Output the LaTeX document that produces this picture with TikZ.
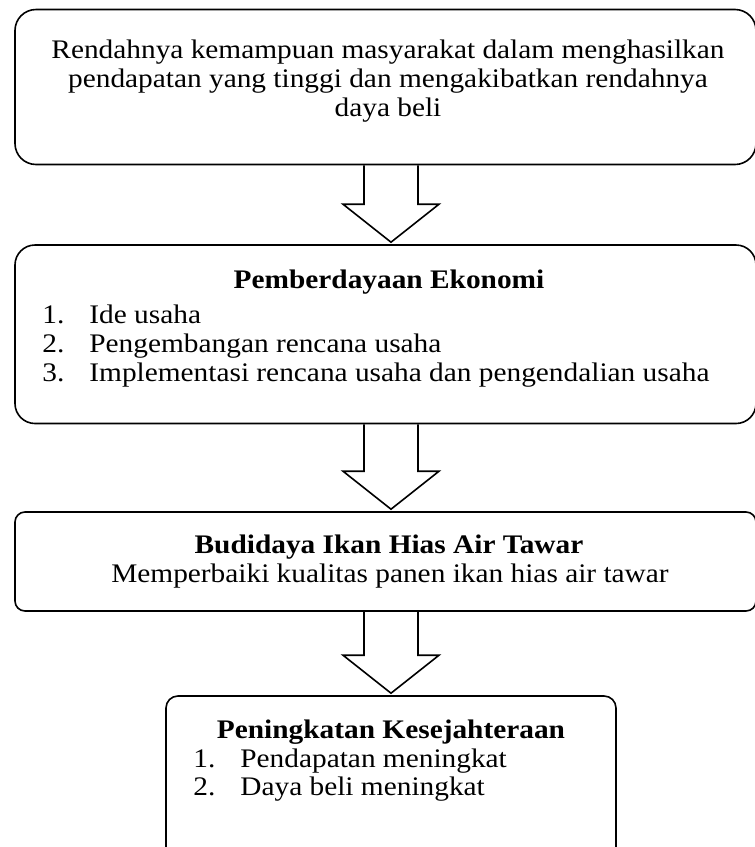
\documentclass[tikz,border=0pt]{standalone}
\usepackage{fontspec}
\setmainfont[FakeStretch=1.095]{Liberation Serif}
\usetikzlibrary{calc,fit}

\tikzset{
  kotak/.style={draw, line width=0.8pt, rounded corners=#1, inner sep=0pt},
  kotak/.default=10pt,
  panah/.style={draw, line width=0.8pt, line join=miter},
  teks/.style={anchor=base, inner sep=0pt},
}

% panah blok dari kotak #1 ke kotak #2
\newcommand{\panahblok}[2]{%
  \draw[panah] ($(#1.south -| sumbu)+(-27,0)$) -- ($(#2.north -| sumbu)+(-27,-40)$)
    -- ($(#2.north -| sumbu)+(-48,-40)$) -- ($(#2.north -| sumbu)+(0,-2)$)
    -- ($(#2.north -| sumbu)+(48,-40)$) -- ($(#2.north -| sumbu)+(27,-40)$)
    -- ($(#1.south -| sumbu)+(27,0)$);}

\begin{document}
\fontsize{13.4}{14.5}\selectfont
\begin{tikzpicture}[x=0.5pt, y=-0.5pt]
  \clip (0,0) rectangle (755,847);
  \coordinate (sumbu) at (391,0);

  % kotak
  \node[kotak=10.5pt, fit={(15,9.5) (756,164.5)}] (rendah) {};
  \node[kotak=10pt, fit={(15,245) (756,423.5)}] (ekonomi) {};
  \node[kotak=5pt, fit={(15,512) (756,611)}] (budidaya) {};
  \node[kotak=6pt, fit={(166,696) (616,880)}] (sejahtera) {};

  \node[anchor=north, inner sep=0pt, align=center] (masalah) at (388,39.5)
    {Rendahnya kemampuan masyarakat dalam menghasilkan\\
     pendapatan yang tinggi dan mengakibatkan rendahnya\\ daya beli};

  \node[teks, font=\bfseries] (judul1) at (389,288) {Pemberdayaan Ekonomi};
  \foreach \n/\t/\y in {1/Ide usaha/323, 2/Pengembangan rencana usaha/352,
      3/Implementasi rencana usaha dan pengendalian usaha/381} {
    \node[teks, anchor=base west] (no\n) at (42,\y) {\n.};
    \node[teks, anchor=base west] (item\n) at (89,\y) {\t};
  }

  \node[teks, font=\bfseries] (judul2) at (389,553) {Budidaya Ikan Hias Air Tawar};
  \node[teks] (ket2) at (390,582) {Memperbaiki kualitas panen ikan hias air tawar};

  \node[teks, font=\bfseries] (judul3) at (391,738) {Peningkatan Kesejahteraan};
  \foreach \n/\t/\y in {1/Pendapatan meningkat/767, 2/Daya beli meningkat/795} {
    \node[teks, anchor=base west] (nomor\n) at (193,\y) {\n.};
    \node[teks, anchor=base west] (hasil\n) at (240,\y) {\t};
  }

  \panahblok{rendah}{ekonomi}
  \panahblok{ekonomi}{budidaya}
  \panahblok{budidaya}{sejahtera}
\end{tikzpicture}
\end{document}
